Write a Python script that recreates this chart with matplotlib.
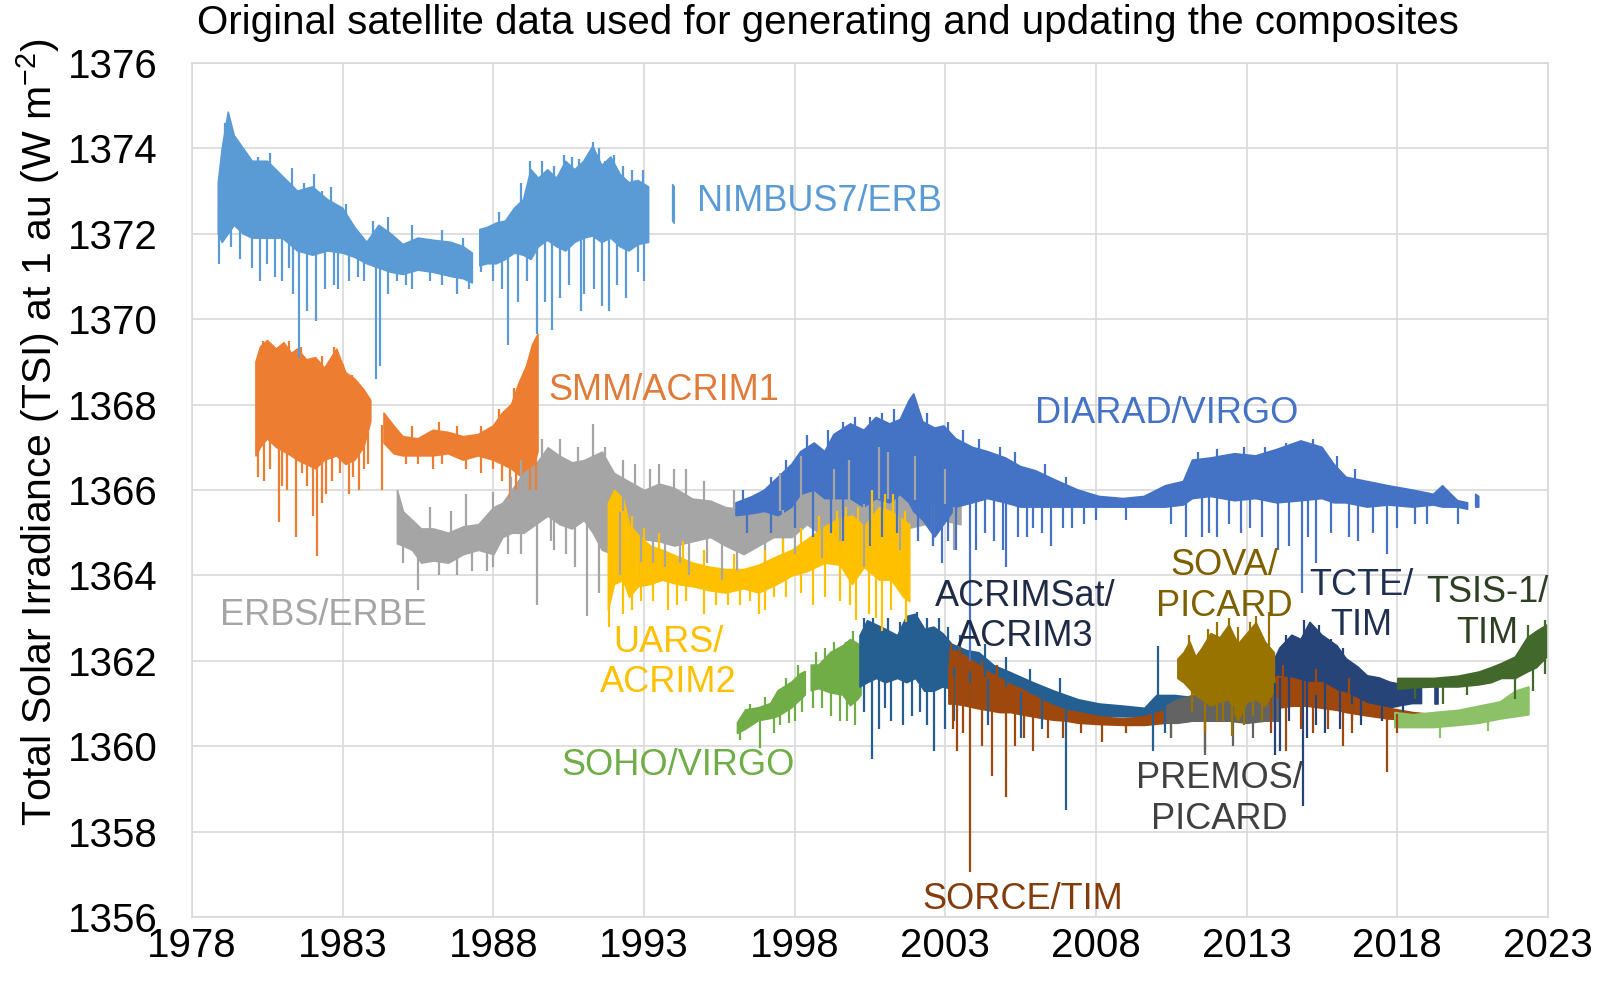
import numpy as np
import matplotlib
matplotlib.use("Agg")
import matplotlib.pyplot as plt

nan = np.nan

# ---- data (year, upper / lower edge of the daily scatter, spikes) ----
nimbus_yr = [1978.87, 1979.0, 1979.2, 1979.4, 1979.7, 1980.0, 1980.5, 1981.0, 1981.5, 1982.0, 1982.5,
             1983.0, 1983.4, 1983.8, 1984.2, 1984.6, 1985.0, 1985.5, 1986.0, 1986.6, 1987.0, 1987.3, nan,
             1987.55, 1987.8, 1988.1, 1988.4, 1988.7, 1989.0, 1989.25, 1989.5, 1989.8, 1990.1, 1990.4,
             1990.7, 1991.0, 1991.3, 1991.6, 1991.9, 1992.2, 1992.5, 1992.8, 1993.15, nan, 1993.95, 1994.0]
nimbus_hi = [1373.2, 1374.0, 1374.85, 1374.3, 1374.0, 1373.7, 1373.7, 1373.35, 1373.0, 1373.1, 1372.8,
             1372.6, 1372.15, 1371.8, 1372.2, 1372.0, 1371.75, 1371.9, 1371.85, 1371.8, 1371.7, 1371.55, nan,
             1372.1, 1372.15, 1372.25, 1372.3, 1372.6, 1372.8, 1373.5, 1373.3, 1373.5, 1373.3, 1373.7,
             1373.5, 1373.7, 1374.05, 1373.6, 1373.8, 1373.4, 1373.2, 1373.25, 1373.1, nan, 1373.15, 1373.1]
nimbus_lo = [1372.0, 1371.8, 1372.0, 1372.2, 1372.0, 1371.9, 1371.9, 1371.9, 1371.6, 1371.5, 1371.6,
             1371.55, 1371.45, 1371.3, 1371.2, 1371.1, 1371.05, 1371.15, 1371.1, 1371.0, 1370.95, 1370.85, nan,
             1371.25, 1371.3, 1371.3, 1371.4, 1371.55, 1371.5, 1371.4, 1371.7, 1371.85, 1371.7, 1371.6,
             1371.8, 1371.9, 1371.95, 1371.8, 1371.9, 1371.7, 1371.6, 1371.75, 1371.8, nan, 1372.3, 1372.25]
nimbus_dip_yr = [1978.9, 1979.3, 1979.6, 1980.0, 1980.25, 1980.5, 1980.75, 1981.0, 1981.2, 1981.35, 1981.55,
                 1981.8, 1982.1, 1982.4, 1982.7, 1982.85, 1983.2, 1983.5, 1983.7, 1984.12, 1984.25, 1984.5,
                 1984.8, 1985.1, 1985.3, 1985.9, 1986.3, 1986.8, 1987.2, 1987.6, 1988.0, 1988.3, 1988.5,
                 1988.8, 1989.1, 1989.45, 1989.7, 1989.95, 1990.2, 1990.5, 1990.9, 1991.0, 1991.35, 1991.6,
                 1991.85, 1992.1, 1992.4, 1992.8, 1993.0]
nimbus_dip_val = [1371.3, 1371.7, 1371.4, 1371.2, 1370.9, 1371.3, 1371.0, 1370.9, 1371.2, 1370.6, 1369.1,
                  1370.2, 1369.95, 1370.7, 1370.8, 1370.7, 1370.9, 1371.0, 1370.9, 1368.6, 1368.9, 1370.6,
                  1370.9, 1370.8, 1370.7, 1370.9, 1370.8, 1370.6, 1370.7, 1371.1, 1370.9, 1370.7, 1369.4,
                  1370.4, 1370.9, 1369.65, 1370.4, 1369.75, 1370.5, 1370.8, 1370.2, 1370.6, 1370.7, 1370.3,
                  1370.2, 1370.8, 1370.5, 1371.1, 1370.9]
nimbus_up_yr = [1979.1, 1979.35, 1979.7, 1980.2, 1980.6, 1981.3, 1981.7, 1982.05, 1982.3, 1982.6, 1983.1,
                1984.0, 1984.5, 1985.3, 1986.3, 1987.0, 1988.2, 1988.9, 1989.2, 1989.6, 1990.0, 1990.35,
                1990.6, 1990.85, 1991.3, 1991.5, 1991.7, 1992.0, 1992.3, 1992.6, 1992.95]
nimbus_up_val = [1374.6, 1374.3, 1374.0, 1373.8, 1373.9, 1373.55, 1373.2, 1373.4, 1373.0, 1373.1, 1372.7,
                 1372.3, 1372.4, 1372.2, 1372.1, 1371.9, 1372.5, 1373.2, 1373.7, 1373.7, 1373.6, 1373.85,
                 1373.8, 1373.75, 1374.15, 1374.0, 1373.7, 1373.85, 1373.6, 1373.5, 1373.5]

smm_yr = [1980.12, 1980.27, 1980.5, 1980.8, 1981.05, 1981.3, 1981.5, 1981.8, 1982.1, 1982.4, 1982.8,
          1983.1, 1983.4, 1983.7, 1983.93, nan, 1984.37, 1984.7, 1985.0, 1985.5, 1986.0, 1986.5, 1987.0,
          1987.5, 1988.0, 1988.3, 1988.6, 1988.85, 1989.1, 1989.3, 1989.48]
smm_hi = [1369.0, 1369.35, 1369.5, 1369.3, 1369.45, 1369.2, 1369.3, 1369.05, 1369.1, 1368.85, 1369.3,
          1368.75, 1368.6, 1368.35, 1368.1, nan, 1367.8, 1367.5, 1367.25, 1367.2, 1367.4, 1367.35, 1367.25,
          1367.3, 1367.5, 1367.8, 1368.0, 1368.5, 1368.9, 1369.4, 1369.65]
smm_lo = [1366.8, 1367.0, 1367.2, 1367.0, 1366.9, 1366.8, 1366.7, 1366.6, 1366.5, 1366.7, 1366.8,
          1366.6, 1366.7, 1367.0, 1367.6, nan, 1367.1, 1366.85, 1366.8, 1366.8, 1366.8, 1366.85, 1366.7,
          1366.8, 1366.7, 1366.6, 1366.5, 1366.35, 1366.3, 1366.45, 1366.9]
smm_dip_yr = [1980.2, 1980.4, 1980.6, 1980.9, 1981.0, 1981.15, 1981.45, 1981.65, 1981.8, 1982.0, 1982.15,
              1982.3, 1982.45, 1982.65, 1982.9, 1983.2, 1983.35, 1983.55, 1983.7, 1983.85, 1984.3, 1985.1,
              1985.5, 1986.0, 1986.3, 1987.1, 1987.6, 1988.0, 1988.3, 1988.55, 1988.75, 1988.9, 1989.2, 1989.4]
smm_dip_val = [1366.3, 1366.2, 1366.5, 1365.25, 1366.1, 1366.0, 1364.9, 1366.4, 1366.1, 1365.4, 1364.45,
               1365.7, 1365.9, 1366.2, 1366.4, 1365.9, 1366.3, 1366.0, 1366.5, 1366.6, 1366.0, 1366.6,
               1366.6, 1366.5, 1366.6, 1366.5, 1366.4, 1366.5, 1366.2, 1365.8, 1366.0, 1365.9, 1366.0, 1366.0]
smm_up_yr = [1980.35, 1980.65, 1981.2, 1981.6, 1982.3, 1982.7, 1983.0, 1983.3, 1985.3, 1986.2, 1986.8,
             1987.6, 1988.2, 1988.7]
smm_up_val = [1369.5, 1369.2, 1369.5, 1369.35, 1369.15, 1369.35, 1368.95, 1368.7, 1367.5, 1367.6, 1367.5,
              1367.5, 1367.9, 1368.4]

erbs_yr = [1984.8, 1985.0, 1985.3, 1985.6, 1986.0, 1986.5, 1987.0, 1987.5, 1988.0, 1988.3, 1988.6, 1989.0,
           1989.4, 1989.8, 1990.2, 1990.6, 1991.0, 1991.3, 1991.6, 1992.0, 1992.5, 1993.0, 1993.5, 1994.0,
           1994.6, 1995.2, 1995.7, 1996.3, 1996.8, 1997.3, 1997.9, 1998.4, 1999.0, 1999.5, 2000.1, 2000.6,
           2001.2, 2001.7, 2002.3, 2002.9, 2003.5]
erbs_hi = [1366.0, 1365.5, 1365.3, 1365.1, 1365.1, 1365.0, 1365.15, 1365.2, 1365.6, 1365.7, 1366.0, 1366.4,
           1366.6, 1367.0, 1366.8, 1366.65, 1366.7, 1366.8, 1366.9, 1366.4, 1366.2, 1366.0, 1366.15, 1366.05,
           1365.8, 1365.75, 1365.6, 1365.55, 1365.5, 1366.0, 1366.3, 1366.4, 1366.0, 1365.9, 1366.4, 1366.7,
           1366.4, 1366.5, 1366.3, 1366.1, 1365.9]
erbs_lo = [1364.75, 1364.7, 1364.6, 1364.3, 1364.35, 1364.3, 1364.5, 1364.6, 1364.5, 1364.9, 1365.0, 1365.0,
           1365.2, 1365.4, 1365.2, 1365.1, 1365.3, 1365.0, 1364.6, 1364.5, 1364.9, 1364.85, 1364.8, 1364.7,
           1364.8, 1364.9, 1364.7, 1364.5, 1364.7, 1364.9, 1364.9, 1365.2, 1364.9, 1365.1, 1364.8, 1364.9,
           1365.2, 1365.1, 1365.2, 1365.3, 1365.2]
erbs_dip_yr = [1985.0, 1985.5, 1986.2, 1986.8, 1987.3, 1987.8, 1988.0, 1988.5, 1988.9, 1989.45, 1989.9,
               1990.0, 1990.4, 1990.7, 1991.1, 1991.5, 1992.2, 1992.6, 1992.9, 1993.3, 1993.7, 1994.2, 1994.5,
               1995.1, 1995.6, 1996.1, 1997.0, 1997.6, 1998.0, 1998.9, 1999.5, 2000.3, 2001.5, 2002.6, 2003.3]
erbs_dip_val = [1364.3, 1363.65, 1364.0, 1364.0, 1364.1, 1364.1, 1364.2, 1364.5, 1364.5, 1363.3, 1364.8,
                1364.6, 1364.5, 1364.2, 1363.05, 1363.6, 1364.0, 1364.2, 1363.9, 1364.3, 1364.2, 1364.3, 1364.0,
                1364.3, 1363.9, 1364.1, 1364.3, 1364.3, 1364.5, 1364.4, 1364.5, 1364.2, 1364.6, 1364.7, 1364.6]
erbs_up_yr = [1985.9, 1986.6, 1987.1, 1988.0, 1988.6, 1988.9, 1989.6, 1990.2, 1990.8, 1991.3, 1991.7,
              1992.3, 1992.7, 1993.2, 1993.5, 1994.0, 1994.4, 1995.0, 1996.0, 1997.5, 1998.2, 1999.3,
              1999.8, 2000.8, 2001.1, 2002.0, 2003.0]
erbs_up_val = [1365.6, 1365.5, 1365.9, 1365.95, 1366.3, 1366.7, 1367.2, 1367.2, 1367.0, 1367.55, 1367.0,
               1366.7, 1366.6, 1366.5, 1366.6, 1366.5, 1366.5, 1366.2, 1366.0, 1366.4, 1366.8, 1366.5,
               1366.7, 1367.0, 1366.9, 1366.8, 1366.5]

uars_yr = [1991.8, 1992.0, 1992.3, 1992.5, 1992.8, 1993.2, 1993.6, 1994.1, 1994.6, 1995.2, 1995.7, 1996.3,
           1996.8, 1997.4, 1997.9, 1998.4, 1999.0, 1999.5, 1999.9, 2000.3, 2000.8, 2001.2, 2001.6, 2001.8]
uars_hi = [1365.7, 1366.0, 1365.8, 1365.2, 1364.95, 1364.7, 1364.6, 1364.45, 1364.3, 1364.2, 1364.15, 1364.15,
           1364.25, 1364.45, 1364.6, 1364.85, 1365.15, 1365.35, 1365.4, 1365.15, 1365.6, 1365.5, 1365.3, 1365.2]
uars_lo = [1363.2, 1363.8, 1363.9, 1363.5, 1363.75, 1363.8, 1363.9, 1363.8, 1363.75, 1363.65, 1363.6, 1363.7,
           1363.6, 1363.8, 1364.0, 1364.1, 1364.3, 1364.25, 1363.8, 1364.2, 1363.9, 1363.9, 1363.5, 1363.4]
uars_dip_yr = [1991.85, 1992.3, 1992.6, 1992.9, 1993.3, 1993.8, 1994.1, 1994.4, 1995.0, 1995.4, 1995.8,
               1996.2, 1996.5, 1996.8, 1997.0, 1997.3, 1997.7, 1998.2, 1998.6, 1999.0, 1999.5, 1999.85,
               2000.05, 2000.45, 2000.7, 2000.9, 2001.2, 2001.7]
uars_dip_val = [1362.8, 1363.1, 1363.2, 1363.4, 1363.4, 1363.2, 1363.3, 1363.4, 1363.1, 1363.3, 1363.3,
                1363.3, 1363.4, 1363.1, 1363.2, 1363.5, 1363.5, 1363.6, 1363.3, 1363.5, 1363.4, 1363.3,
                1362.95, 1363.1, 1363.0, 1362.7, 1363.2, 1362.9]
uars_up_yr = [1992.05, 1992.6, 1993.0, 1993.5, 1994.3, 1995.0, 1996.0, 1997.0, 1997.6, 1998.2, 1998.8,
              1999.4, 1999.7, 2000.1, 2000.55, 2001.0, 2001.25, 2001.65]
uars_up_val = [1366.0, 1365.4, 1365.1, 1365.0, 1364.8, 1364.6, 1364.5, 1364.6, 1364.85, 1365.1, 1365.4,
               1365.5, 1365.6, 1365.6, 1366.0, 1365.9, 1365.9, 1365.5]

diarad_yr = [1996.05, 1996.6, 1997.0, 1997.45, 1997.9, 1998.2, 1998.65, 1999.0, 1999.3, 1999.85, 2000.3,
             2000.7, 2001.15, 2001.5, 2001.8, 2001.95, 2002.25, 2002.65, 2002.95, 2003.35, 2003.9, 2004.4,
             2005.0, 2005.5, 2006.0, 2006.6, 2007.4, 2008.1, 2008.9, 2009.6, 2010.3, 2010.9, 2011.2, 2011.8,
             2012.6, 2013.3, 2014.0, 2014.8, 2015.5, 2015.9, 2016.3, 2017.0, 2017.7, 2018.5, 2019.2, 2019.5,
             2020.0, 2020.33, nan, 2020.6, 2020.7]
diarad_hi = [1365.7, 1365.85, 1366.0, 1366.3, 1366.6, 1366.9, 1367.1, 1366.9, 1367.3, 1367.55, 1367.4,
             1367.7, 1367.55, 1367.65, 1368.1, 1368.25, 1367.6, 1367.45, 1367.5, 1367.2, 1367.0, 1366.9,
             1366.75, 1366.55, 1366.45, 1366.25, 1366.0, 1365.85, 1365.8, 1365.85, 1366.1, 1366.2, 1366.7,
             1366.75, 1366.85, 1366.8, 1366.95, 1367.15, 1367.0, 1366.6, 1366.3, 1366.2, 1366.1, 1366.0,
             1365.9, 1366.1, 1365.75, 1365.7, nan, 1365.9, 1365.85]
diarad_lo = [1365.4, 1365.45, 1365.5, 1365.4, 1365.6, 1365.9, 1366.0, 1365.8, 1365.8, 1365.8, 1365.6,
             1365.8, 1365.7, 1365.9, 1365.7, 1365.5, 1365.3, 1364.9, 1365.2, 1365.6, 1365.7, 1365.8,
             1365.7, 1365.6, 1365.6, 1365.6, 1365.6, 1365.6, 1365.6, 1365.6, 1365.6, 1365.65, 1365.8,
             1365.85, 1365.75, 1365.8, 1365.7, 1365.75, 1365.8, 1365.7, 1365.7, 1365.6, 1365.65, 1365.6,
             1365.65, 1365.6, 1365.6, 1365.55, nan, 1365.6, 1365.6]
diarad_dip_yr = [1996.4, 1997.2, 1998.0, 1998.6, 1999.2, 1999.6, 2000.5, 2000.9, 2001.4, 2002.1, 2002.6,
                 2002.9, 2003.1, 2003.35, 2003.82, 2004.0, 2004.3, 2004.6, 2004.9, 2005.0, 2005.4, 2005.7,
                 2005.9, 2006.2, 2006.5, 2006.9, 2007.2, 2007.6, 2008.0, 2009.0, 2010.5, 2011.0, 2011.5,
                 2011.75, 2012.0, 2012.4, 2012.8, 2013.1, 2013.5, 2014.05, 2014.4, 2014.85, 2015.05, 2015.3,
                 2015.8, 2016.4, 2016.7, 2017.2, 2017.67, 2018.0, 2018.6, 2019.0, 2020.0]
diarad_dip_val = [1365.0, 1365.0, 1365.1, 1364.9, 1365.0, 1364.8, 1364.7, 1364.9, 1365.0, 1364.8, 1364.7,
                  1364.3, 1364.8, 1364.6, 1362.0, 1364.6, 1365.0, 1364.8, 1364.6, 1364.2, 1364.9, 1364.9,
                  1365.1, 1365.0, 1364.7, 1365.1, 1365.1, 1365.2, 1365.3, 1365.3, 1365.2, 1364.9, 1364.9,
                  1365.0, 1364.9, 1365.2, 1365.0, 1365.1, 1364.9, 1364.6, 1364.7, 1363.6, 1364.9, 1364.3,
                  1365.0, 1364.9, 1364.8, 1365.0, 1364.5, 1365.1, 1365.2, 1365.2, 1365.2]
diarad_up_yr = [1996.3, 1997.2, 1997.7, 1998.4, 1999.1, 1999.6, 2000.0, 2000.5, 2000.9, 2001.3, 2002.4,
                2003.1, 2003.6, 2004.1, 2004.8, 2005.3, 2006.3, 2007.0, 2011.4, 2012.0, 2012.9, 2013.6,
                2014.3, 2015.2, 2016.0, 2016.6]
diarad_up_val = [1366.0, 1366.3, 1366.7, 1367.3, 1367.4, 1367.6, 1367.7, 1367.7, 1367.8, 1367.9, 1367.8,
                 1367.6, 1367.4, 1367.2, 1367.0, 1366.9, 1366.6, 1366.3, 1366.9, 1366.95, 1367.0, 1367.0,
                 1367.1, 1367.2, 1366.8, 1366.5]

soho_yr = [1996.1, 1996.37, 1996.8, 1997.2, 1997.45, 1997.9, 1998.2, 1998.35, nan, 1998.55, 1998.8, 1999.2,
           1999.6, 1999.85, 2000.1, 2000.2]
soho_hi = [1360.55, 1360.85, 1360.9, 1361.0, 1361.3, 1361.5, 1361.7, 1361.75, nan, 1361.9, 1361.9, 1362.2,
           1362.35, 1362.5, 1362.4, 1362.3]
soho_lo = [1360.3, 1360.4, 1360.6, 1360.65, 1360.7, 1360.9, 1361.1, 1361.2, nan, 1361.3, 1361.35, 1361.25,
           1361.2, 1360.95, 1361.1, 1361.2]
soho_dip_yr = [1996.2, 1996.86, 1997.3, 1997.5, 1997.8, 1998.0, 1998.25, 1998.6, 1998.9, 1999.2, 1999.5,
               1999.75, 2000.0]
soho_dip_val = [1360.15, 1359.95, 1360.3, 1360.5, 1360.55, 1360.6, 1360.8, 1360.9, 1360.9, 1360.7, 1360.6,
                1360.6, 1360.5]
soho_up_yr = [1996.5, 1997.0, 1997.7, 1998.1, 1998.7, 1999.0, 1999.3, 1999.7, 1999.95]
soho_up_val = [1361.0, 1361.15, 1361.6, 1361.9, 1362.2, 1362.3, 1362.45, 1362.45, 1362.7]

virgo_late_yr = [2017.9, 2018.5, 2019.2, 2020.0, 2020.7, 2021.4, 2021.9, 2022.35]
virgo_late_hi = [1360.8, 1360.75, 1360.8, 1360.85, 1360.95, 1361.05, 1361.3, 1361.4]
virgo_late_lo = [1360.45, 1360.45, 1360.45, 1360.5, 1360.55, 1360.65, 1360.7, 1360.75]
virgo_late_dip_yr = [2019.4, 2021.0]
virgo_late_dip_val = [1360.2, 1360.35]

acrim3_yr = [2000.15, 2000.4, 2000.7, 2001.0, 2001.4, 2001.7, 2002.0, 2002.3, 2002.6, 2002.9, 2003.2, 2003.7,
             2004.1, 2004.6, 2005.1, 2005.9, 2006.6, 2007.4, 2008.1, 2008.9, 2009.6, 2010.0, 2010.6, 2011.2,
             2011.8, 2012.5, 2013.3, 2013.75]
acrim3_hi = [1362.6, 1362.95, 1362.85, 1362.75, 1362.6, 1363.05, 1363.1, 1362.75, 1362.8, 1362.65, 1362.4,
             1362.25, 1362.2, 1361.9, 1361.75, 1361.5, 1361.3, 1361.1, 1361.0, 1360.95, 1360.9, 1361.2, 1361.2,
             1361.15, 1361.3, 1361.3, 1361.35, 1361.3]
acrim3_lo = [1361.4, 1361.5, 1361.6, 1361.5, 1361.6, 1361.5, 1361.6, 1361.3, 1361.3, 1361.4, 1361.35, 1361.3,
             1361.2, 1361.1, 1360.95, 1360.9, 1360.8, 1360.75, 1360.72, 1360.7, 1360.7, 1360.75, 1360.8,
             1360.8, 1360.8, 1360.85, 1360.85, 1360.85]
acrim3_dip_yr = [2000.3, 2000.55, 2000.8, 2001.0, 2001.2, 2001.6, 2001.9, 2002.15, 2002.4, 2002.63, 2003.0,
                 2003.3, 2003.82, 2004.4, 2005.5, 2006.2, 2007.0, 2009.9, 2010.3]
acrim3_dip_val = [1360.8, 1359.7, 1360.4, 1360.9, 1360.6, 1360.5, 1360.7, 1360.8, 1360.5, 1359.9, 1360.4,
                  1360.6, 1361.0, 1360.5, 1360.2, 1360.4, 1358.5, 1359.9, 1360.3]
acrim3_up_yr = [2000.3, 2000.6, 2001.1, 2001.5, 2001.8, 2002.05, 2002.4, 2002.8, 2003.1, 2003.5, 2004.3,
                2005.0, 2005.8, 2006.8, 2010.05]
acrim3_up_val = [1363.0, 1363.0, 1363.0, 1362.9, 1363.05, 1363.15, 1363.0, 1363.0, 1362.8, 1362.6, 1362.4,
                 1362.1, 1361.8, 1361.6, 1362.35]

sorce_yr = [2003.1, 2003.3, 2003.7, 2004.0, 2004.4, 2004.8, 2005.15, 2005.5, 2005.9, 2006.3, 2006.6, 2007.0,
            2007.4, 2008.1, 2008.9, 2009.6, 2010.3, 2011.1, 2011.8, 2012.5, 2013.2, 2013.7, 2014.0, 2014.5,
            2015.0, 2015.5, 2016.0, 2016.3, 2017.0, 2017.7, 2018.5, 2019.2, 2019.7, 2020.15]
sorce_hi = [1362.2, 1362.25, 1362.1, 1361.95, 1361.75, 1361.6, 1361.45, 1361.35, 1361.2, 1361.05, 1360.95,
            1360.85, 1360.8, 1360.7, 1360.65, 1360.7, 1360.85, 1361.1, 1361.2, 1361.2, 1361.3, 1361.4, 1361.65,
            1361.6, 1361.5, 1361.5, 1361.3, 1361.25, 1361.0, 1360.9, 1360.8, 1360.75, 1360.72, 1360.7]
sorce_lo = [1361.0, 1361.0, 1360.95, 1360.9, 1360.85, 1360.8, 1360.8, 1360.75, 1360.7, 1360.65, 1360.62, 1360.6,
            1360.55, 1360.52, 1360.5, 1360.5, 1360.55, 1360.6, 1360.6, 1360.6, 1360.65, 1360.7, 1360.9, 1360.95,
            1360.95, 1360.9, 1360.85, 1360.8, 1360.72, 1360.65, 1360.62, 1360.6, 1360.58, 1360.57]
sorce_dip_yr = [2003.25, 2003.4, 2003.6, 2003.82, 2004.2, 2004.56, 2005.0, 2005.3, 2005.6, 2005.9, 2006.4,
                2006.9, 2007.5, 2008.2, 2009.0, 2010.5, 2011.6, 2013.8, 2014.3, 2014.8, 2015.2, 2015.7,
                2016.2, 2016.5, 2017.67, 2018.0]
sorce_dip_val = [1360.4, 1359.9, 1360.3, 1357.05, 1360.0, 1359.3, 1358.8, 1360.0, 1360.2, 1359.9, 1360.2,
                 1360.2, 1360.3, 1360.1, 1360.3, 1360.2, 1359.9, 1360.3, 1359.9, 1360.4, 1360.3, 1360.4,
                 1360.0, 1360.3, 1359.4, 1360.3]
sorce_up_yr = [2003.2, 2003.5, 2004.2, 2004.7, 2014.2, 2015.3, 2016.4]
sorce_up_val = [1362.4, 1362.3, 1362.0, 1361.9, 1361.9, 1361.8, 1361.6]

premos_yr = [2010.3, 2010.7, 2011.2, 2011.8, 2012.4, 2013.0, 2013.6, 2014.05]
premos_hi = [1360.95, 1361.1, 1361.2, 1361.3, 1361.3, 1361.2, 1361.3, 1361.1]
premos_lo = [1360.55, 1360.55, 1360.6, 1360.6, 1360.6, 1360.55, 1360.6, 1360.6]
premos_dip_yr = [2010.5, 2011.6, 2012.55, 2013.2]
premos_dip_val = [1360.2, 1359.8, 1360.0, 1360.2]

sova_yr = [2010.7, 2010.9, 2011.1, 2011.3, 2011.5, 2011.8, 2012.1, 2012.4, 2012.7, 2013.0, 2013.3, 2013.6, 2013.9]
sova_hi = [1362.05, 1362.2, 1362.45, 1362.1, 1362.3, 1362.65, 1362.55, 1362.85, 1362.4, 1362.65, 1362.9,
           1362.45, 1362.2]
sova_lo = [1361.6, 1361.5, 1361.35, 1361.2, 1361.1, 1360.95, 1361.05, 1361.1, 1360.6, 1361.05, 1361.1,
           1360.95, 1361.3]
sova_dip_yr = [2011.2, 2011.6, 2012.0, 2012.2, 2012.5, 2012.9, 2013.2, 2013.5]
sova_dip_val = [1360.8, 1360.3, 1360.6, 1360.6, 1360.25, 1360.5, 1360.7, 1360.6]
sova_up_yr = [2011.1, 2011.7, 2012.0, 2012.4, 2012.7, 2013.1, 2013.3, 2013.75]
sova_up_val = [1362.6, 1362.75, 1362.9, 1363.0, 1362.8, 1362.9, 1363.05, 1363.15]

tcte_yr = [2013.9, 2014.1, 2014.5, 2014.8, 2015.1, 2015.5, 2016.0, 2016.3, 2016.7, 2017.0, 2017.4, 2017.75,
           2018.1, 2018.5, 2018.8, nan, 2019.25, 2019.35]
tcte_hi = [1362.0, 1362.3, 1362.6, 1362.5, 1362.9, 1362.6, 1362.35, 1362.05, 1361.85, 1361.65, 1361.6, 1361.5,
           1361.45, 1361.35, 1361.35, nan, 1361.4, 1361.4]
tcte_lo = [1360.9, 1360.9, 1361.0, 1361.0, 1361.05, 1361.0, 1360.95, 1360.95, 1360.95, 1360.9, 1360.95, 1360.9,
           1360.95, 1361.0, 1361.0, nan, 1361.0, 1361.0]
tcte_dip_yr = [2013.95, 2014.1, 2014.4, 2014.88, 2015.0, 2015.3, 2015.6, 2016.1, 2016.5, 2016.8, 2017.5, 2018.2]
tcte_dip_val = [1359.8, 1359.9, 1360.6, 1358.6, 1360.2, 1360.5, 1360.3, 1360.4, 1360.6, 1360.5, 1360.6, 1360.8]
tcte_up_yr = [2014.3, 2014.9, 2015.2, 2015.4, 2015.8, 2016.2]
tcte_up_val = [1362.6, 1362.95, 1362.8, 1362.85, 1362.5, 1362.3]

tsis_yr = [2018.0, 2018.5, 2019.2, 2020.0, 2020.7, 2021.1, 2021.45, 2021.9, 2022.3, 2022.6, 2022.95]
tsis_hi = [1361.6, 1361.6, 1361.6, 1361.65, 1361.75, 1361.85, 1361.95, 1362.1, 1362.55, 1362.7, 1362.85]
tsis_lo = [1361.35, 1361.38, 1361.4, 1361.4, 1361.45, 1361.5, 1361.6, 1361.6, 1361.75, 1361.85, 1362.1]
tsis_dip_yr = [2018.6, 2019.5, 2020.3, 2021.9, 2022.5, 2022.9]
tsis_dip_val = [1361.1, 1361.0, 1361.2, 1361.1, 1361.3, 1361.7]
tsis_up_yr = [2022.35, 2022.9]
tsis_up_val = [1362.85, 1362.95]


def draw_series(ax, yr, hi, lo, color, dip_yr=(), dip_val=(), up_yr=(), up_val=()):
    yr = np.array(yr, float)
    hi = np.array(hi, float)
    lo = np.array(lo, float)
    ax.fill_between(yr, lo, hi, color=color, lw=1.2, edgecolor=color)
    ok = ~np.isnan(yr)
    mid = (hi[ok] + lo[ok]) / 2
    # single-day excursions (sunspot dips, bright days)
    if len(dip_yr):
        base = np.interp(dip_yr, yr[ok], mid)
        ax.vlines(dip_yr, dip_val, base, color=color, lw=1.6)
    if len(up_yr):
        base = np.interp(up_yr, yr[ok], mid)
        ax.vlines(up_yr, base, up_val, color=color, lw=1.6)


plt.rcParams['font.family'] = ['Liberation Sans', 'DejaVu Sans']
plt.rcParams['mathtext.fontset'] = 'custom'
plt.rcParams['mathtext.rm'] = 'Liberation Sans'

fig = plt.figure(figsize=(16.06, 9.85), dpi=100)
ax = fig.add_axes([0.1196, 0.069, 0.8443, 0.867])

draw_series(ax, smm_yr, smm_hi, smm_lo, '#ED7D31', smm_dip_yr, smm_dip_val, smm_up_yr, smm_up_val)
draw_series(ax, erbs_yr, erbs_hi, erbs_lo, '#A5A5A5', erbs_dip_yr, erbs_dip_val, erbs_up_yr, erbs_up_val)
draw_series(ax, diarad_yr, diarad_hi, diarad_lo, '#4472C4', diarad_dip_yr, diarad_dip_val,
            diarad_up_yr, diarad_up_val)
draw_series(ax, uars_yr, uars_hi, uars_lo, '#FFC000', uars_dip_yr, uars_dip_val, uars_up_yr, uars_up_val)
draw_series(ax, nimbus_yr, nimbus_hi, nimbus_lo, '#5B9BD5', nimbus_dip_yr, nimbus_dip_val,
            nimbus_up_yr, nimbus_up_val)
draw_series(ax, soho_yr, soho_hi, soho_lo, '#70AD47', soho_dip_yr, soho_dip_val, soho_up_yr, soho_up_val)
draw_series(ax, acrim3_yr, acrim3_hi, acrim3_lo, '#255E91', acrim3_dip_yr, acrim3_dip_val,
            acrim3_up_yr, acrim3_up_val)
draw_series(ax, tcte_yr, tcte_hi, tcte_lo, '#264478', tcte_dip_yr, tcte_dip_val, tcte_up_yr, tcte_up_val)
draw_series(ax, sorce_yr, sorce_hi, sorce_lo, '#9E480E', sorce_dip_yr, sorce_dip_val, sorce_up_yr, sorce_up_val)
draw_series(ax, premos_yr, premos_hi, premos_lo, '#636363', premos_dip_yr, premos_dip_val)
draw_series(ax, sova_yr, sova_hi, sova_lo, '#997300', sova_dip_yr, sova_dip_val, sova_up_yr, sova_up_val)
draw_series(ax, tsis_yr, tsis_hi, tsis_lo, '#43682B', tsis_dip_yr, tsis_dip_val, tsis_up_yr, tsis_up_val)
draw_series(ax, virgo_late_yr, virgo_late_hi, virgo_late_lo, '#8CC168', virgo_late_dip_yr, virgo_late_dip_val)

# instrument labels
fs = 26
ax.text(1994.75, 1372.75, 'NIMBUS7/ERB', color='#5B9BD5', fontsize=fs, va='center')
ax.text(1989.82, 1368.34, 'SMM/ACRIM1', color='#E07B39', fontsize=fs, va='center')
ax.text(1978.94, 1363.06, 'ERBS/ERBE', color='#A5A5A5', fontsize=fs, va='center')
ax.text(1993.8, 1361.96, 'UARS/\nACRIM2', color='#FFC000', fontsize=fs, va='center', ha='center')
ax.text(2005.98, 1367.79, 'DIARAD/VIRGO', color='#4472C4', fontsize=fs, va='center')
ax.text(1990.26, 1359.54, 'SOHO/VIRGO', color='#70AD47', fontsize=fs, va='center')
ax.text(2005.64, 1363.04, 'ACRIMSat/\nACRIM3', color='#1F2A44', fontsize=fs, va='center', ha='center')
ax.text(2002.23, 1356.42, 'SORCE/TIM', color='#843C0C', fontsize=fs, va='center')
ax.text(2012.27, 1363.75, 'SOVA/\nPICARD', color='#7F6000', fontsize=fs, va='center', ha='center')
ax.text(2012.1, 1358.76, 'PREMOS/\nPICARD', color='#404040', fontsize=fs, va='center', ha='center')
ax.text(2016.8, 1363.29, 'TCTE/\nTIM', color='#203050', fontsize=fs, va='center', ha='center')
ax.text(2021.0, 1363.12, 'TSIS-1/\nTIM', color='#2F3F24', fontsize=fs, va='center', ha='center')

ax.set_xlim(1978, 2023)
ax.set_ylim(1356, 1376)
ax.set_xticks(np.arange(1978, 2024, 5))
ax.set_yticks(np.arange(1356, 1377, 2))
ax.tick_params(length=0, labelsize=29)
ax.tick_params(axis='y', pad=25)
ax.tick_params(axis='x', pad=7)
ax.grid(True, color='#D9D9D9', lw=1.2)
ax.set_axisbelow(True)
for s in ax.spines.values():
    s.set_color('#D9D9D9')
    s.set_linewidth(1.2)

fig.text(197 / 1606, 1 - 23 / 985, 'Original satellite data used for generating and updating the composites',
         fontsize=29, va='center', ha='left')
fig.text(38 / 1606, 1 - 432 / 985, 'Total Solar Irradiance (TSI) at 1 au (W m$\\mathregular{^{-2}}$)',
         fontsize=29.5, rotation=90, va='center', ha='center')

fig.savefig('out.png', dpi=100)
